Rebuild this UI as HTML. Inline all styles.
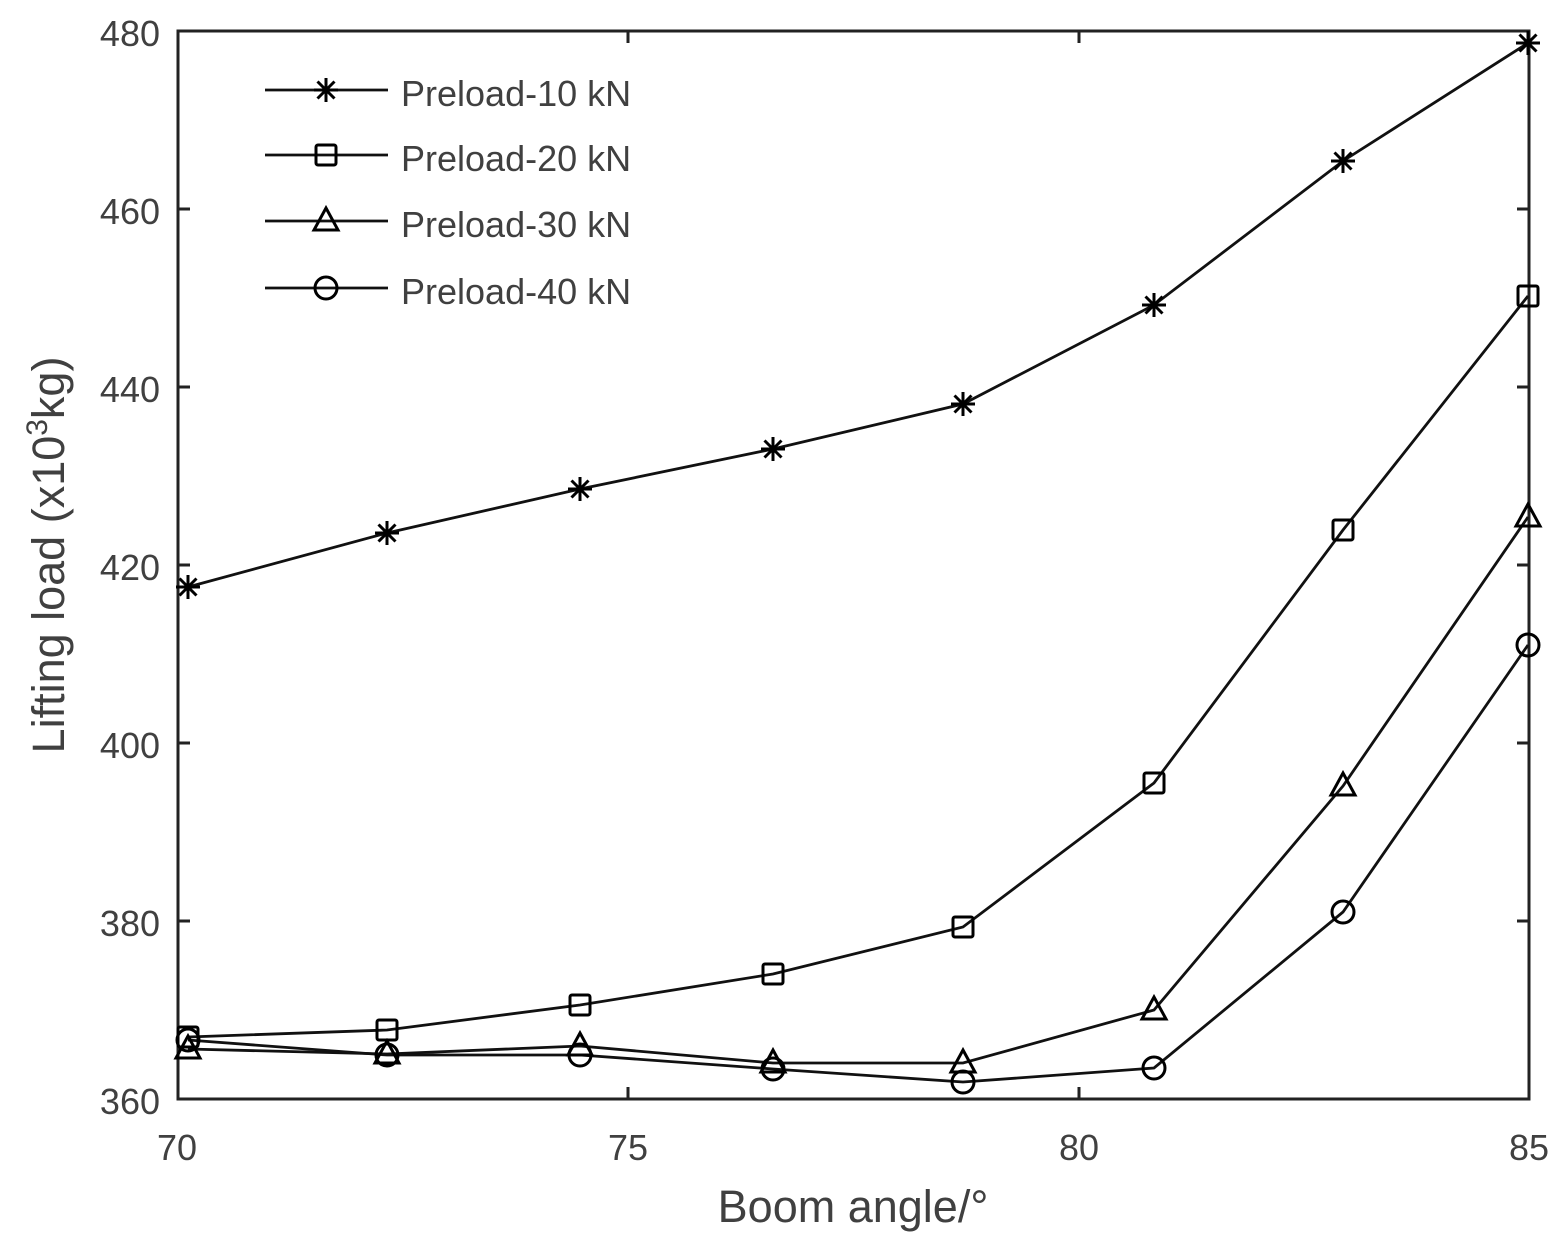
<!DOCTYPE html>
<html><head><meta charset="utf-8"><style>
html,body{margin:0;padding:0;background:#fff;}
svg{display:block;}
text{font-family:"Liberation Sans",Arial,sans-serif;fill:#404040;}
</style></head><body>
<svg width="1567" height="1246" viewBox="0 0 1567 1246" xmlns="http://www.w3.org/2000/svg">
<defs>
<g id="st" stroke="#000" stroke-width="3" fill="none"><path d="M-12,0H12M0,-12V12M-8.5,-8.5L8.5,8.5M-8.5,8.5L8.5,-8.5"/></g>
<rect id="sq" x="-10" y="-10" width="20" height="20" rx="2" fill="none" stroke="#000" stroke-width="3"/>
<path id="tr" d="M0,-13L12,9H-12Z" fill="none" stroke="#000" stroke-width="3"/>
<circle id="ci" r="11" fill="none" stroke="#000" stroke-width="3"/>
</defs>
<rect x="178" y="31" width="1351" height="1068" fill="none" stroke="#222" stroke-width="3"/>
<g stroke="#222" stroke-width="3">
<path d="M178,921h12M178,743h12M178,565h12M178,387h12M178,209h12"/>
<path d="M1529,921h-12M1529,743h-12M1529,565h-12M1529,387h-12M1529,209h-12"/>
<path d="M628,1099v-12M1079,1099v-12M628,31v12M1079,31v12"/>
</g>
<g font-size="36" text-anchor="end">
<text x="160" y="1114">360</text><text x="160" y="936">380</text><text x="160" y="758">400</text>
<text x="160" y="580">420</text><text x="160" y="402">440</text><text x="160" y="224">460</text><text x="160" y="46">480</text>
</g>
<g font-size="36" text-anchor="middle">
<text x="177" y="1160">70</text><text x="628" y="1160">75</text><text x="1079" y="1160">80</text><text x="1529" y="1160">85</text>
<text x="853" y="1222" font-size="45">Boom angle/°</text>
</g>
<text transform="translate(64,555) rotate(-90)" font-size="45" text-anchor="middle">Lifting load (x10<tspan dy="-17" font-size="30">3</tspan><tspan dy="17">kg)</tspan></text>
<g fill="none" stroke="#111" stroke-width="2.8">
<polyline points="188,587 387,533 580,489 773,449 963,404 1154,305 1343,161 1528,43"/>
<polyline points="188,1037 387,1030 580,1005 773,974 963,927 1154,783 1343,530 1528,296"/>
<polyline points="188,1049 387,1054 580,1046 773,1063 963,1063 1154,1010 1343,786 1528,517"/>
<polyline points="188,1040 387,1055 580,1055 773,1069 963,1082 1154,1068 1343,912 1528,645"/>
</g>
<g>
<use href="#st" x="188" y="587"/><use href="#st" x="387" y="533"/><use href="#st" x="580" y="489"/><use href="#st" x="773" y="449"/><use href="#st" x="963" y="404"/><use href="#st" x="1154" y="305"/><use href="#st" x="1343" y="161"/><use href="#st" x="1528" y="43"/>
<use href="#sq" x="188" y="1037"/><use href="#sq" x="387" y="1030"/><use href="#sq" x="580" y="1005"/><use href="#sq" x="773" y="974"/><use href="#sq" x="963" y="927"/><use href="#sq" x="1154" y="783"/><use href="#sq" x="1343" y="530"/><use href="#sq" x="1528" y="296"/>
<use href="#tr" x="188" y="1049"/><use href="#tr" x="387" y="1054"/><use href="#tr" x="580" y="1046"/><use href="#tr" x="773" y="1063"/><use href="#tr" x="963" y="1063"/><use href="#tr" x="1154" y="1010"/><use href="#tr" x="1343" y="786"/><use href="#tr" x="1528" y="517"/>
<use href="#ci" x="188" y="1040"/><use href="#ci" x="387" y="1055"/><use href="#ci" x="580" y="1055"/><use href="#ci" x="773" y="1069"/><use href="#ci" x="963" y="1082"/><use href="#ci" x="1154" y="1068"/><use href="#ci" x="1343" y="912"/><use href="#ci" x="1528" y="645"/>
</g>
<g stroke="#111" stroke-width="2.8"><path d="M265,90H388M265,155H388M265,221H388M265,288H388"/></g>
<use href="#st" x="326" y="90"/><use href="#sq" x="326" y="155"/><use href="#tr" x="326" y="221"/><use href="#ci" x="326" y="288"/>
<g font-size="36" style="fill:#222">
<text x="401" y="106">Preload-10 kN</text><text x="401" y="171">Preload-20 kN</text>
<text x="401" y="237">Preload-30 kN</text><text x="401" y="304">Preload-40 kN</text>
</g>
</svg>
</body></html>
